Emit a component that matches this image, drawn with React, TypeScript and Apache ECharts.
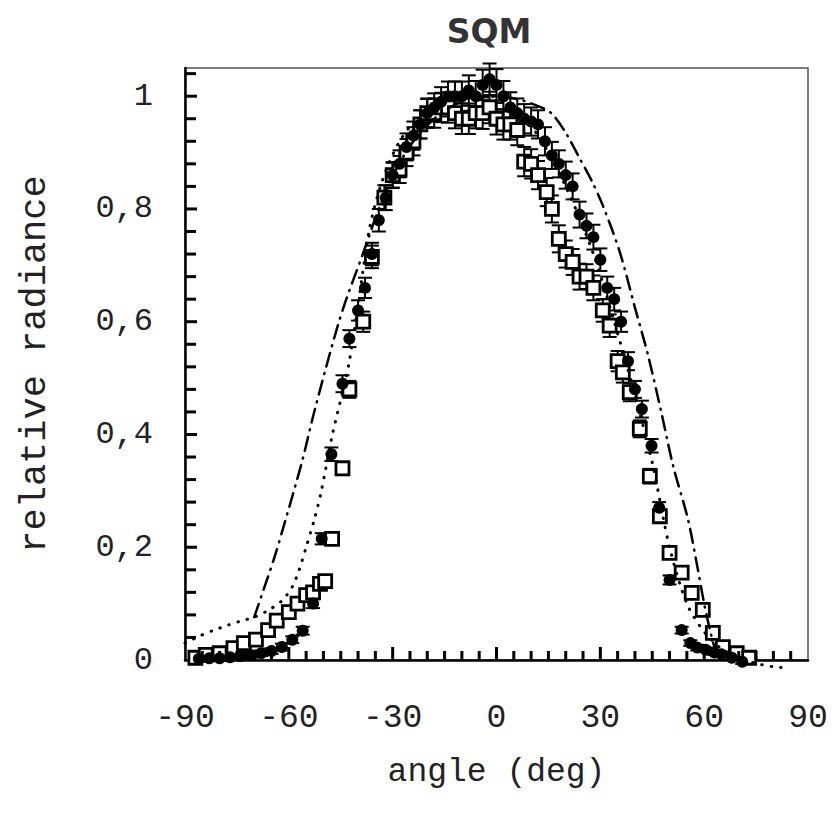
import React, { useEffect, useRef } from "react";
import * as echarts from "echarts";

// ---- data ----
const dotAngles = [-86, -83, -80, -77, -74, -71, -68, -65, -62, -59, -56, -53, -50.5, -47.7, -44.5, -42.5, -40, -38, -36, -34, -32, -30, -28, -26, -24, -22, -20, -18, -16, -14, -12, -10, -8, -6, -4, -2, 0, 2, 4, 6, 8, 10, 12, 14, 16, 18, 20, 22, 24, 26, 28, 30, 32, 34, 36, 38, 40, 42, 44.8, 47, 50, 53.5, 56, 58, 60.5, 63, 65, 68, 71];
const dotValues = [0.002, 0.003, 0.003, 0.005, 0.007, 0.009, 0.012, 0.016, 0.023, 0.036, 0.052, 0.1, 0.215, 0.365, 0.49, 0.57, 0.62, 0.66, 0.72, 0.78, 0.82, 0.86, 0.88, 0.91, 0.93, 0.95, 0.97, 0.98, 0.99, 1.0, 1.0, 1.0, 1.01, 1.0, 1.02, 1.03, 1.02, 1.0, 0.98, 0.97, 0.96, 0.955, 0.95, 0.92, 0.895, 0.88, 0.86, 0.84, 0.79, 0.77, 0.75, 0.71, 0.66, 0.64, 0.6, 0.53, 0.48, 0.445, 0.38, 0.27, 0.142, 0.053, 0.03, 0.022, 0.018, 0.013, 0.01, 0.004, -0.003];
const dotErrors = [0.004, 0.004, 0.004, 0.004, 0.004, 0.005, 0.005, 0.005, 0.006, 0.006, 0.007, 0.008, 0.01, 0.012, 0.015, 0.015, 0.018, 0.018, 0.02, 0.02, 0.022, 0.022, 0.024, 0.024, 0.025, 0.025, 0.025, 0.025, 0.026, 0.026, 0.026, 0.026, 0.027, 0.027, 0.027, 0.028, 0.028, 0.027, 0.027, 0.026, 0.026, 0.025, 0.025, 0.025, 0.024, 0.024, 0.024, 0.023, 0.023, 0.022, 0.022, 0.02, 0.02, 0.02, 0.018, 0.016, 0.015, 0.015, 0.012, 0.01, 0.008, 0.006, 0.005, 0.005, 0.004, 0.004, 0.004, 0.004, 0.004];

const squareAngles = [-87, -84, -80, -76, -73, -69.5, -66, -63.5, -60, -57.5, -55, -53, -51, -49.5, -47.5, -44.5, -42.5, -38.5, -36, -32.4, -30, -28, -26, -24, -22, -20, -18, -16, -14, -12, -10, -8, -6, -4, -2, 0, 2, 4, 6, 8, 10, 12, 14.5, 16, 18, 20, 22, 24, 26, 28, 30.7, 32.7, 35, 36.5, 38.5, 41.4, 44.3, 47.2, 50, 53.5, 56.4, 59.6, 62.5, 65.4, 69.4, 73];
const squareValues = [0.004, 0.009, 0.012, 0.021, 0.03, 0.036, 0.053, 0.07, 0.085, 0.1, 0.115, 0.12, 0.135, 0.14, 0.215, 0.34, 0.48, 0.6, 0.715, 0.82, 0.86, 0.87, 0.9, 0.92, 0.95, 0.97, 0.97, 0.98, 0.98, 0.97, 0.96, 0.96, 0.97, 0.97, 0.98, 0.96, 0.95, 0.95, 0.94, 0.884, 0.88, 0.86, 0.83, 0.8, 0.747, 0.72, 0.706, 0.68, 0.68, 0.66, 0.62, 0.593, 0.53, 0.51, 0.475, 0.41, 0.326, 0.255, 0.19, 0.155, 0.119, 0.089, 0.048, 0.023, 0.012, 0.004];
const squareErrors = [0.004, 0.004, 0.004, 0.004, 0.005, 0.005, 0.005, 0.006, 0.006, 0.006, 0.007, 0.007, 0.007, 0.008, 0.01, 0.012, 0.015, 0.018, 0.02, 0.022, 0.023, 0.024, 0.024, 0.025, 0.025, 0.026, 0.026, 0.026, 0.027, 0.027, 0.027, 0.027, 0.027, 0.028, 0.028, 0.028, 0.027, 0.027, 0.027, 0.026, 0.026, 0.025, 0.025, 0.024, 0.024, 0.024, 0.023, 0.023, 0.022, 0.022, 0.02, 0.02, 0.018, 0.018, 0.016, 0.015, 0.013, 0.012, 0.01, 0.008, 0.007, 0.006, 0.005, 0.005, 0.004, 0.004];

const dottedCurve = [[-90, 0.03], [-86, 0.042], [-82, 0.052], [-78, 0.061], [-74, 0.069], [-70, 0.076], [-66, 0.088], [-62, 0.105], [-59, 0.13], [-57, 0.16], [-55, 0.2], [-52.6, 0.25], [-50.6, 0.3], [-47.4, 0.4], [-44.5, 0.475], [-42.5, 0.53], [-39.5, 0.65], [-36.7, 0.765], [-33, 0.85], [-28, 0.92], [-22, 0.965], [-15, 0.99], [-8, 1.0], [-2, 1.0], [5, 0.98], [12, 0.93], [20, 0.84], [28, 0.72], [34, 0.6], [40, 0.47], [45, 0.35], [50, 0.2], [55, 0.1], [60, 0.05], [65, 0.02], [70, 0.004], [75, -0.006], [80, -0.012], [84, -0.014]];
const dashDotCurve = [[-70, 0.076], [-67, 0.13], [-64, 0.185], [-61.6, 0.235], [-59, 0.29], [-56, 0.356], [-53.2, 0.427], [-49.2, 0.52], [-46, 0.59], [-43.4, 0.64], [-38.8, 0.717], [-34, 0.8], [-29, 0.87], [-24, 0.92], [-18, 0.96], [-12, 0.985], [-6, 1.0], [0, 1.0], [6, 0.995], [11, 0.985], [15.8, 0.97], [20, 0.935], [24, 0.89], [27.5, 0.85], [30.8, 0.805], [35.6, 0.724], [40, 0.625], [43.8, 0.54], [47.6, 0.44], [51, 0.345], [55.3, 0.25], [58.2, 0.16], [60, 0.1], [62, 0.045], [64, 0.0]];

const xTickLabels = ["-90", "-60", "-30", "0", "30", "60", "90"];
const xMajorTicks = [-60, -30, 0, 30, 60];
const xMinorTicks = [-85, -80, -75, -70, -65, -55, -50, -45, -40, -35, -25, -20, -15, -10, -5, 5, 10, 15, 20, 25, 35, 40, 45, 50, 55, 65, 70, 75, 80, 85];
const yMajorTicks = [0.2, 0.4, 0.6, 0.8, 1.0];
const yMinorTicks = [0.04, 0.08, 0.12, 0.16, 0.24, 0.28, 0.32, 0.36, 0.44, 0.48, 0.52, 0.56, 0.64, 0.68, 0.72, 0.76, 0.84, 0.88, 0.92, 0.96, 1.04];
const titleText = "SQM";
const xName = "angle (deg)";
const yName = "relative radiance";

const MONO = "'Courier New', 'Liberation Mono', monospace";
const X_MIN = -90;
const Y_MIN = 0;

function errorData(xs: number[], ys: number[], es: number[]) {
  return xs.map((x, i) => [x, ys[i] - es[i], ys[i] + es[i]]);
}

function errorBarSeries(data: number[][]) {
  return {
    type: "custom",
    clip: false,
    z: 3,
    encode: { x: 0, y: [1, 2] },
    data,
    renderItem: (params: any, api: any) => {
      const x = api.value(0);
      const lo = api.coord([x, api.value(1)]);
      const hi = api.coord([x, api.value(2)]);
      const hw = 7;
      const style = { stroke: "#000", lineWidth: 2 };
      return {
        type: "group",
        children: [
          { type: "line", shape: { x1: lo[0], y1: lo[1], x2: hi[0], y2: hi[1] }, style },
          { type: "line", shape: { x1: hi[0] - hw, y1: hi[1], x2: hi[0] + hw, y2: hi[1] }, style },
          { type: "line", shape: { x1: lo[0] - hw, y1: lo[1], x2: lo[0] + hw, y2: lo[1] }, style },
        ],
      };
    },
  };
}

// inward tick marks on the bottom (x) or left (y) axis
function tickSeries(values: number[], dir: "x" | "y", len: number) {
  return {
    type: "custom",
    clip: false,
    silent: true,
    z: 7,
    encode: { x: 0, y: 1 },
    data: values.map((v) => (dir === "x" ? [v, Y_MIN] : [X_MIN, v])),
    renderItem: (params: any, api: any) => {
      const p = api.coord([api.value(0), api.value(1)]);
      const shape =
        dir === "x"
          ? { x1: p[0], y1: p[1], x2: p[0], y2: p[1] - len }
          : { x1: p[0], y1: p[1], x2: p[0] + len, y2: p[1] };
      return { type: "line", shape, style: { stroke: "#000", lineWidth: 3 } };
    },
  };
}

function yLabel(v: number) {
  const k = Math.round(v / 0.2);
  if (Math.abs(v - k * 0.2) > 1e-6) return "";
  if (k === 0) return "0";
  if (k === 5) return "1";
  return (k * 0.2).toFixed(1).replace(".", ",");
}

export default function App() {
  const ref = useRef<HTMLDivElement>(null);
  useEffect(() => {
    if (!ref.current) return;
    const chart = echarts.init(ref.current, undefined, { renderer: "svg" });
    chart.setOption({
      animation: false,
      backgroundColor: "#fff",
      graphic: [
        {
          type: "text",
          x: 489,
          y: 31,
          style: {
            text: titleText,
            textAlign: "center",
            textVerticalAlign: "middle",
            fontFamily: "'DejaVu Sans', sans-serif",
            fontWeight: "bold",
            fontSize: 33,
            fill: "#333",
          },
        },
      ],
      grid: { left: 185, right: 24, top: 68, bottom: 155, show: true, borderColor: "#555", borderWidth: 1.5, backgroundColor: "transparent" },
      xAxis: {
        type: "value",
        min: X_MIN,
        max: 90,
        interval: 30,
        name: xName,
        nameLocation: "middle",
        nameGap: 96,
        nameTextStyle: { fontFamily: MONO, fontSize: 33, color: "#222" },
        axisLine: { show: true, onZero: false, lineStyle: { color: "#000", width: 2.5 } },
        axisTick: { show: false },
        splitLine: { show: false },
        axisLabel: {
          fontFamily: MONO,
          fontSize: 33,
          color: "#222",
          margin: 42,
          showMinLabel: true,
          showMaxLabel: true,
          formatter: (v: number) => {
            const s = String(Math.round(v));
            return xTickLabels.includes(s) ? s : "";
          },
        },
      },
      yAxis: {
        type: "value",
        min: Y_MIN,
        max: 1.05,
        interval: 0.2,
        name: yName,
        nameLocation: "middle",
        nameGap: 132,
        nameTextStyle: { fontFamily: MONO, fontSize: 37, color: "#222" },
        axisLine: { show: true, onZero: false, lineStyle: { color: "#000", width: 2.5 } },
        axisTick: { show: false },
        splitLine: { show: false },
        axisLabel: { fontFamily: MONO, fontSize: 32, color: "#222", margin: 32, formatter: yLabel },
      },
      series: [
        tickSeries(xMajorTicks, "x", 13),
        tickSeries(xMinorTicks, "x", 9),
        tickSeries(yMajorTicks, "y", 12),
        tickSeries(yMinorTicks, "y", 11),
        errorBarSeries(errorData(squareAngles, squareValues, squareErrors)),
        errorBarSeries(errorData(dotAngles, dotValues, dotErrors)),
        {
          type: "scatter",
          name: "squares",
          clip: false,
          z: 4,
          symbol: "rect",
          symbolSize: 13,
          itemStyle: { color: "#fff", borderColor: "#000", borderWidth: 2.8, opacity: 1 },
          data: squareAngles.map((x, i) => [x, squareValues[i]]),
        },
        {
          type: "scatter",
          name: "dots",
          clip: false,
          z: 5,
          symbol: "circle",
          symbolSize: 12,
          itemStyle: { color: "#000", opacity: 1 },
          data: dotAngles.map((x, i) => [x, dotValues[i]]),
        },
        {
          type: "line",
          name: "dotted",
          clip: false,
          z: 6,
          smooth: 0.3,
          showSymbol: false,
          symbol: "none",
          lineStyle: { color: "#000", width: 3, type: [0.5, 9], cap: "round" },
          data: dottedCurve,
        },
        {
          type: "line",
          name: "dashdot",
          clip: false,
          z: 6,
          smooth: 0.3,
          showSymbol: false,
          symbol: "none",
          lineStyle: { color: "#000", width: 2.5, type: [14, 7, 1, 7], cap: "round" },
          data: dashDotCurve,
        },
      ],
    });
    return () => chart.dispose();
  }, []);
  return <div ref={ref} style={{ position: "fixed", left: 0, top: 0, width: 832, height: 815 }} />;
}
